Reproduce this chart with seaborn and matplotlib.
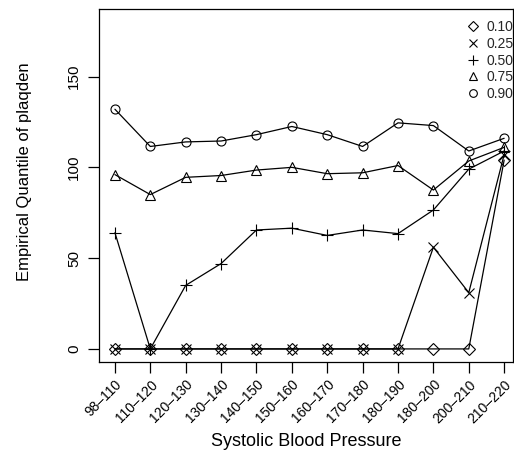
import matplotlib
matplotlib.use("Agg")
import matplotlib.pyplot as plt
import seaborn as sns
import numpy as np
from matplotlib.lines import Line2D

categories = ["98–110", "110–120", "120–130", "130–140", "140–150", "150–160",
              "160–170", "170–180", "180–190", "180–200", "200–210", "210–220"]
q10 = [0, 0, 0, 0, 0, 0, 0, 0, 0, 0, 0, 104]
q25 = [0, 0, 0, 0, 0, 0, 0, 0, 0, 56, 31, 107]
q50 = [64, 0, 35, 47, 65.5, 66.5, 62.5, 65.5, 63.5, 76.5, 99, 109]
q75 = [96, 85, 94.5, 95.5, 98.5, 100, 96.5, 97, 101, 87.5, 103.5, 111]
q90 = [132, 111.5, 114, 114.5, 118, 122.5, 118, 111.5, 124.5, 123, 109, 116]
series_labels = ["0.10", "0.25", "0.50", "0.75", "0.90"]
series = [q10, q25, q50, q75, q90]
markers = ["D", "x", "+", "^", "o"]
msizes = [6, 6.5, 9, 7, 6.5]

sns.set_theme(style="white")
plt.rcParams['font.family'] = ['Liberation Sans', 'DejaVu Sans']

fig = plt.figure(figsize=(5.14, 4.55), dpi=100)
ax = fig.add_axes([99/514, 1 - 362/455, (513-99)/514, (362-9)/455])

pos = np.arange(1, len(categories) + 1)
for vals, m, ms in zip(series, markers, msizes):
    sns.lineplot(x=pos, y=vals, ax=ax, color="black", linewidth=0.9,
                 marker=m, markersize=ms, markerfacecolor="none",
                 markeredgecolor="black", markeredgewidth=0.8, legend=False)

ax.set_xlim(0.55, 12.25)
ax.set_ylim(-7.2, 187.2)
ax.set_xticks(pos)
ax.set_xticklabels(categories, rotation=45, ha="right", rotation_mode="anchor", fontsize=10)
ax.set_yticks([0, 50, 100, 150])
ax.set_yticklabels(["0", "50", "100", "150"], rotation=90, va="center", fontsize=11)
ax.tick_params(axis="both", direction="out", length=8, width=0.9, color="black",
               bottom=True, left=True, labelcolor="black")
ax.tick_params(axis="x", pad=3)
ax.tick_params(axis="y", pad=5)
for s in ax.spines.values():
    s.set_visible(True)
    s.set_color("black")
    s.set_linewidth(0.9)
ax.set_xlabel("Systolic Blood Pressure", fontsize=13, color="black", labelpad=5)
ax.set_ylabel("Empirical Quantile of plaqden", fontsize=12, color="black")
ax.yaxis.set_label_coords(-0.162, 0.540)

handles = [Line2D([], [], linestyle="none", marker=m, markersize=ms*0.85,
                  markerfacecolor="none", markeredgecolor="black", markeredgewidth=0.8)
           for m, ms in zip(markers, msizes)]
ax.legend(handles, series_labels, loc="upper left",
          bbox_to_anchor=(466/514, 1 - 20/455), bbox_transform=fig.transFigure,
          frameon=False, fontsize=10, handlelength=1.0, handletextpad=0.45,
          labelspacing=0.2, borderaxespad=0, borderpad=0)

fig.savefig("out.png", dpi=100)
